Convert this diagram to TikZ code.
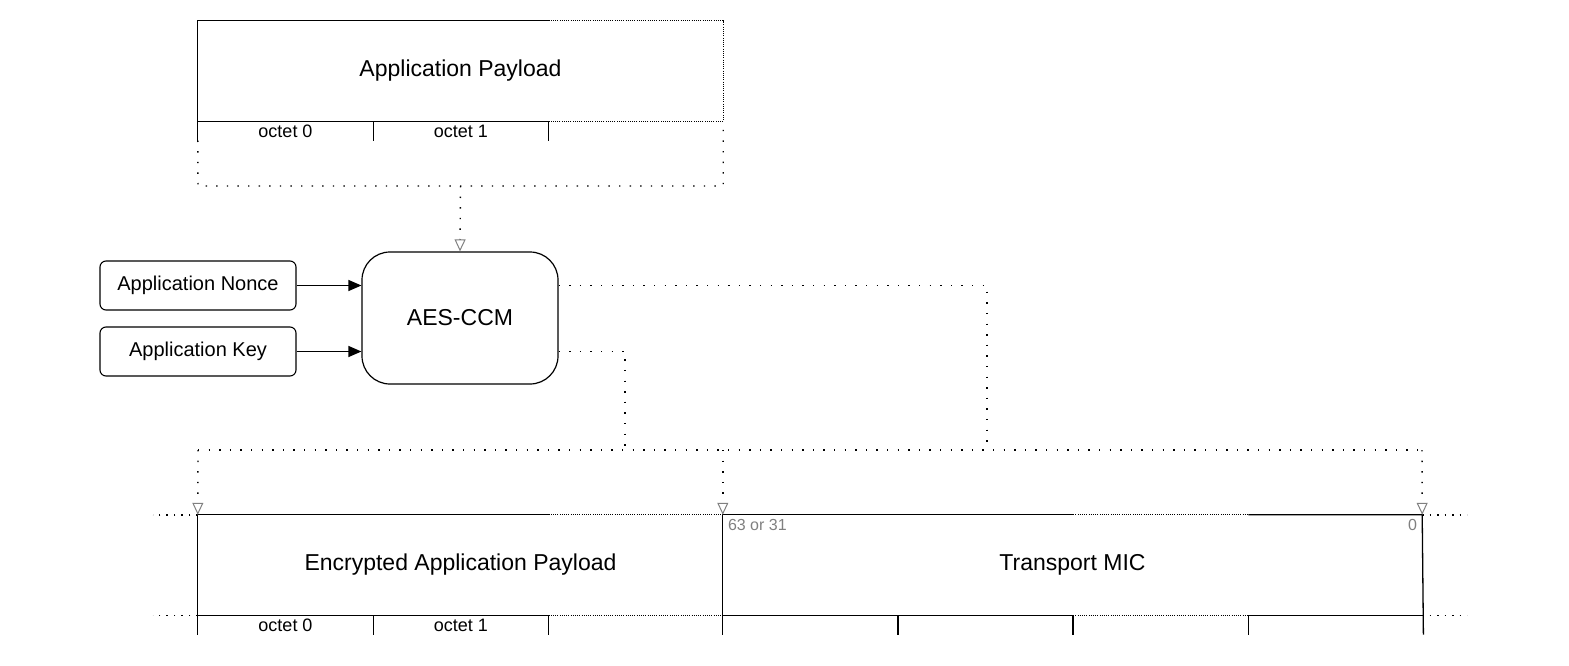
\documentclass[tikz,border=0pt]{standalone}
\usepackage{fontspec}
\setmainfont{Liberation Sans}
\usetikzlibrary{arrows.meta,positioning}
\definecolor{tickgray}{RGB}{128,128,128}

\begin{document}
\begin{tikzpicture}[
  x=1pt, y=-1pt,
  field/.style={rectangle, minimum width=#1, minimum height=100pt, inner sep=0pt, font=\fontsize{23}{27}\selectfont},
  octet/.style={rectangle, minimum width=#1, minimum height=19pt, inner sep=0pt, font=\fontsize{18}{20}\selectfont},
  keybox/.style={rectangle, draw=black, rounded corners=6pt, line width=1.1pt, minimum width=196pt, minimum height=49pt, inner sep=0pt, font=\fontsize{20}{24}\selectfont},
  cipher/.style={rectangle, draw=black, rounded corners=28pt, line width=1.2pt, minimum width=196pt, minimum height=132pt, inner sep=0pt, font=\fontsize{23}{27}\selectfont},
  edge/.style={line width=1.3pt},
  fine/.style={line width=1pt, dash pattern=on 1pt off 1.2pt},
  lead/.style={line width=1.4pt, dash pattern=on 1.4pt off 6.1pt},
  sparse/.style={line width=1.4pt, dash pattern=on 1.4pt off 9.2pt},
  feed/.style={sparse, -{Triangle[open, length=12pt, width=11pt, color=tickgray, line width=1pt]}},
  arrow/.style={-{Triangle[length=13pt, width=11pt]}, line width=1.3pt},
  bitno/.style={inner sep=0pt, text=tickgray, font=\fontsize{16}{18}\selectfont}
]
\useasboundingbox (0,0) rectangle (1569,666);

% Input packet
\node[field=525pt] (payload) at (460.5,71) {Application Payload};
\node[octet=175pt, anchor=north west] (po0) at (payload.south west) {octet 0};
\node[octet=175pt, right=0pt of po0] (po1) {octet 1};
\draw[edge] (po1.north east) -- (payload.south west) -- (payload.north west) -- (payload.north west -| po1.east);
\draw[fine] (payload.north west -| po1.east) -- (payload.north east) -- (payload.south east) -- (po1.north east);
\draw[edge] (po0.south west) -- (po0.north west);
\draw[edge] (po0.north east) -- (po0.south east);
\draw[edge] (po1.north east) -- (po1.south east);
\coordinate (frameSW) at (198,186);
\coordinate (frameS) at (payload.south |- frameSW);
\draw[sparse] (po0.south west) -- (frameSW) -| (payload.south east);

% Cipher and its inputs
\node[cipher] (aes) at (460,318) {AES-CCM};
\node[keybox] (nonce) at (198,285.5) {Application Nonce};
\node[keybox] (key) at (198,351.5) {Application Key};
\draw[feed] (frameS) -- (aes.north);
\draw[arrow] (nonce.east) -- (nonce.east -| aes.west);
\draw[arrow] (key.east) -- (key.east -| aes.west);

% Output packet
\node[field=525pt] (enc) at (460.5,565) {Encrypted Application Payload};
\node[field=699pt] (mic) at (1072.5,565) {Transport MIC};
\node[octet=175pt, anchor=north west] (eo0) at (enc.south west) {octet 0};
\node[octet=175pt, right=0pt of eo0] (eo1) {octet 1};
\node[octet=174.75pt, anchor=north west] (mc0) at (mic.south west) {};
\node[octet=174.75pt, right=0pt of mc0] (mc1) {};
\node[octet=174.75pt, right=0pt of mc1] (mc2) {};
\node[octet=174.75pt, right=0pt of mc2] (mc3) {};
\node[bitno, anchor=north west] (msb) at ([xshift=5pt, yshift=-4pt]mic.north west) {63 or 31};
\node[bitno, anchor=north east] (lsb) at ([xshift=-5pt, yshift=-4pt]mic.north east) {0};

\draw[edge] (enc.north west -| eo1.east) -- (enc.north west) -- (eo0.south west);
\draw[edge] (eo0.north west) -- (eo1.north east) -- (eo1.south east);
\draw[edge] (eo0.north east) -- (eo0.south east);
\draw[fine] (enc.north west -| eo1.east) -- (enc.north east);
\draw[fine] (eo1.north east) -- (mc0.north west);
\draw[edge] (mic.north west -| mc1.east) -- (mic.north west) -- (mc0.south west);
\draw[edge] (mc0.north west) -- (mc1.north east) -- (mc1.south east);
\draw[edge] (mc0.north east) -- (mc0.south east);
\draw[edge] (mic.north east -| mc3.west) -- (mic.north east) -- (mc3.south east);
\draw[edge] (mc3.south west) -- (mc3.north west) -- (mc3.north east);
\draw[fine] (mic.north west -| mc1.east) -- (mic.north east -| mc3.west);
\draw[fine] (mc1.north east) -- (mc3.north west);
\draw[lead] (enc.north west) -- ++(-45,0);
\draw[lead] (enc.south west) -- ++(-45,0);
\draw[lead] (mic.north east) -- ++(45,0);
\draw[lead] (mic.south east) -- ++(45,0);

% Cipher outputs
\coordinate (busW) at (198,450);
\coordinate (busE) at (1422,450);
\coordinate (busL) at (625,450);
\coordinate (busR) at (987,450);
\draw[sparse] (nonce.east -| aes.east) -| (busR);
\draw[sparse] (key.east -| aes.east) -| (busL);
\draw[sparse] (busW) -- (busE);
\draw[feed] (busW) -- (enc.north west);
\draw[feed] (busW -| mic.west) -- (mic.north west);
\draw[feed] (busE) -- (mic.north east);

\end{tikzpicture}
\end{document}
